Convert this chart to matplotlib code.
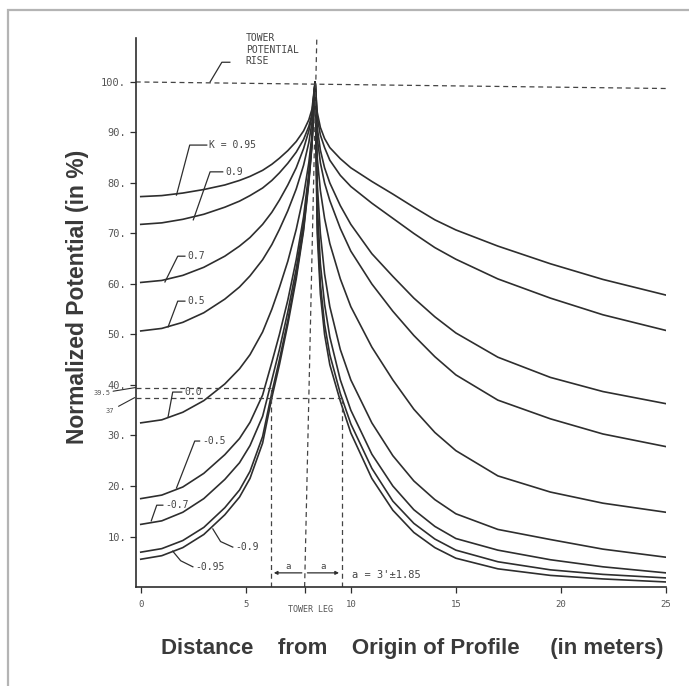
import matplotlib.pyplot as plt
from matplotlib.patches import Rectangle

# K values of the curves (top to bottom)
k_values = [0.95, 0.9, 0.7, 0.5, 0.0, -0.5, -0.7, -0.9, -0.95]

# distances (m) left of the tower leg, up to the peak
x_left = [0, 1, 2, 3, 4, 4.7, 5.2, 5.8, 6.24, 6.6, 7.0, 7.4, 7.75, 8.0, 8.15, 8.3]
# distances (m) right of the peak
x_right = [8.3, 8.4, 8.55, 8.75, 9.0, 9.5, 10, 11, 12, 13, 14, 15, 17, 19.5, 22, 25]

# normalized potential (%), left side
left_p095 = [77.3, 77.5, 78, 78.7, 79.6, 80.5, 81.3, 82.5, 83.7, 84.9, 86.4, 88.2, 90.3, 92.5, 94.6, 100]
left_p090 = [71.8, 72.1, 72.8, 73.8, 75.2, 76.4, 77.5, 79, 80.5, 82, 83.9, 86.1, 88.6, 91.2, 93.6, 100]
left_p070 = [60.3, 60.7, 61.7, 63.3, 65.5, 67.5, 69.2, 71.8, 74.2, 76.6, 79.6, 83, 86.8, 90.3, 93.3, 100]
left_p050 = [50.7, 51.2, 52.4, 54.3, 57, 59.4, 61.6, 64.8, 67.8, 70.8, 74.5, 78.8, 83.5, 88, 92, 100]
left_p000 = [32.5, 33.1, 34.6, 36.9, 40.2, 43.2, 46, 50.5, 55, 59.3, 64.5, 70.8, 77.5, 84, 89.5, 100]
left_m050 = [17.5, 18.2, 19.8, 22.5, 26.2, 29.4, 32.6, 38, 44.5, 50, 56.8, 64.8, 73.3, 82, 88.5, 100]
left_m070 = [12.4, 13.1, 14.8, 17.5, 21.3, 24.6, 28, 33.8, 41, 47, 54.5, 63, 72, 81, 88, 100]
left_m090 = [6.9, 7.6, 9.2, 11.8, 15.7, 19.2, 22.9, 29.8, 38.5, 45, 52.8, 61.7, 71, 80.5, 87.5, 100]
left_m095 = [5.5, 6.2, 7.8, 10.4, 14.3, 17.8, 21.5, 28.5, 37.5, 44, 52, 61, 70.5, 80, 87.5, 100]

# right side
right_p095 = [100, 94, 91, 88.8, 87, 84.8, 83, 80.3, 77.8, 75.2, 72.7, 70.7, 67.5, 64.0, 60.9, 57.8]
right_p090 = [100, 93, 89.5, 87, 84.5, 81.5, 79.3, 76, 73, 70, 67.2, 64.9, 61.0, 57.2, 53.9, 50.8]
right_p070 = [100, 91, 86.5, 83, 80, 75.5, 71.8, 66, 61.5, 57.2, 53.5, 50.3, 45.5, 41.5, 38.7, 36.3]
right_p050 = [100, 89, 84, 80, 76.5, 71, 66.5, 60, 54.6, 49.8, 45.6, 42.0, 37.0, 33.3, 30.3, 27.8]
right_p000 = [100, 85, 78.5, 73, 68, 61, 55.5, 47.5, 41, 35.2, 30.6, 27.0, 22.0, 18.8, 16.6, 14.8]
right_m050 = [100, 80, 70, 62, 55.5, 47, 41, 32.5, 26, 21, 17.3, 14.5, 11.4, 9.4, 7.5, 5.9]
right_m070 = [100, 76, 64, 56, 49.5, 41, 35, 26.3, 20, 15.3, 12, 9.6, 7.3, 5.4, 4, 2.8]
right_m090 = [100, 72, 60, 52, 46, 38.3, 32.3, 23.5, 17, 12.6, 9.5, 7.3, 5, 3.4, 2.5, 1.8]
right_m095 = [100, 70, 58, 50, 44, 36.8, 30.5, 21.5, 15.2, 10.8, 7.8, 5.7, 3.6, 2.3, 1.6, 1.0]

left_curves = [left_p095, left_p090, left_p070, left_p050, left_p000,
               left_m050, left_m070, left_m090, left_m095]
right_curves = [right_p095, right_p090, right_p070, right_p050, right_p000,
                right_m050, right_m070, right_m090, right_m095]

# curve labels: text, leader line (x list, y list)
label_texts = ["K = 0.95", "0.9", "0.7", "0.5", "0.0", "-0.5", "-0.7", "-0.9", "-0.95"]
leader_x = [[1.7, 2.33, 3.14], [2.5, 3.3, 3.9], [1.15, 1.76, 2.1], [1.3, 1.76, 2.1],
            [1.3, 1.52, 1.95], [1.7, 2.57, 2.8], [0.5, 0.76, 1.05], [3.43, 3.8, 4.38],
            [1.52, 1.9, 2.48]]
leader_y = [[77.6, 87.5, 87.5], [72.7, 82.2, 82.2], [60.4, 65.5, 65.5], [51.5, 56.6, 56.6],
            [33.7, 38.6, 38.6], [19.6, 28.9, 28.9], [13.1, 16.2, 16.2], [11.5, 9.0, 7.9],
            [7.1, 5.2, 4.0]]

tower_rise = 100
tower_leg = 7.8
tower_leg_top = 8.38
a_left = 6.2
a_right = 9.57
touch_left = 39.5
touch_right = 37.5
x_ticks = [0, 5, 10, 15, 20, 25]
y_ticks = [10, 20, 30, 40, 50, 60, 70, 80, 90, 100]

ink = '#2e2e2e'
note = '#444444'
mono = 'DejaVu Sans Mono'

fig = plt.figure(figsize=(6.89, 6.86), dpi=100)
fig.patches.append(Rectangle((8 / 689, -0.05), 1.1, 1.05 - 10 / 686, fill=False,
                             edgecolor='#b4b4b4', lw=1.6, transform=fig.transFigure))
ax = fig.add_axes([0.197, 0.1443, 0.7695, 0.8003])
ax.set_xlim(-0.24, 25.0)
ax.set_ylim(0, 108.7)

for lp, rp in zip(left_curves, right_curves):
    ax.plot(x_left + x_right[1:], lp + rp[1:], color=ink, lw=1.2, solid_joinstyle='round')

dash = dict(color='#444444', lw=0.9, ls=(0, (4, 3)))
ax.plot([-0.24, 25.0], [tower_rise, tower_rise - 1.3], **dash, clip_on=False)
ax.plot([tower_leg, tower_leg_top], [0, 108.7], **dash, clip_on=False)
ax.plot([-0.24, a_left], [touch_left, touch_left], **dash)
ax.plot([-0.24, a_right], [touch_right, touch_right], **dash)
ax.plot([a_left, a_left], [0, touch_left], **dash)
ax.plot([a_right, a_right], [0, touch_right], **dash)

# dimension "a" arrows
ax.annotate('', xy=(a_left, 2.8), xytext=(tower_leg, 2.8),
            arrowprops=dict(arrowstyle='-|>', color=ink, lw=0.9, mutation_scale=5))
ax.annotate('', xy=(a_right, 2.8), xytext=(tower_leg, 2.8),
            arrowprops=dict(arrowstyle='-|>', color=ink, lw=0.9, mutation_scale=5))
ax.text((a_left + tower_leg) / 2, 3.5, 'a', fontsize=6.5, family=mono, color=note, ha='center')
ax.text((a_right + tower_leg) / 2, 3.5, 'a', fontsize=6.5, family=mono, color=note, ha='center')
ax.text(10.05, 1.7, "a = 3'±1.85", fontsize=7.5, family=mono, color=note)

# curve labels
for txt, lx, ly in zip(label_texts, leader_x, leader_y):
    ax.plot(lx, ly, color=ink, lw=0.9)
    ax.text(lx[-1] + 0.12, ly[-1], txt, fontsize=7, family=mono, color=note, va='center')

# tower potential rise note
ax.plot([3.3, 3.86, 4.24], [100, 103.9, 103.9], color=ink, lw=0.9)
ax.text(5.0, 109.6, 'TOWER\nPOTENTIAL\nRISE', fontsize=7, family=mono, color=note,
        va='top', linespacing=1.15, clip_on=False)

# touch potential notes at the axis
ax.annotate(str(touch_left), xy=(-0.24, touch_left), xytext=(-1.45, touch_left - 1.1),
            fontsize=5, family=mono, color='#555', va='center', ha='right',
            arrowprops=dict(arrowstyle='-', color=ink, lw=0.8, shrinkA=0, shrinkB=0),
            annotation_clip=False)
ax.annotate('37', xy=(-0.29, touch_right), xytext=(-1.25, touch_right - 2.6),
            fontsize=5, family=mono, color='#555', va='center', ha='right',
            arrowprops=dict(arrowstyle='-', color=ink, lw=0.8, shrinkA=1, shrinkB=0),
            annotation_clip=False)

ax.text(8.1, -3.6, 'TOWER LEG', fontsize=6, family=mono, color='#555',
        ha='center', va='top', clip_on=False)

for side in ['top', 'right']:
    ax.spines[side].set_visible(False)
for side in ['left', 'bottom']:
    ax.spines[side].set_color(ink)
    ax.spines[side].set_linewidth(1.2)

ax.set_xticks(x_ticks + [tower_leg])
ax.set_xticklabels([str(t) for t in x_ticks] + [''])
ax.set_yticks(y_ticks)
ax.set_yticklabels([f'{t}.' for t in y_ticks])
ax.tick_params(axis='x', direction='out', length=4, width=0.9, color=ink, pad=5,
               labelsize=6.5, labelcolor='#555')
ax.tick_params(axis='y', direction='out', length=4, width=0.9, color=ink, pad=3,
               labelsize=7.5, labelcolor='#555')
for lbl in ax.get_xticklabels() + ax.get_yticklabels():
    lbl.set_family(mono)

ax.set_ylabel('Normalized Potential (in %)', fontsize=16.5, fontweight='bold',
              color='#3a3a3a', family='Liberation Sans')
ax.yaxis.set_label_coords(-0.088, 0.528)
ax.set_xlabel('Distance    from    Origin of Profile     (in meters)', fontsize=16,
              fontweight='bold', color='#3a3a3a', family='Liberation Sans')
ax.xaxis.set_label_coords(0.521, -0.093)

fig.savefig('out.png', dpi=100)
